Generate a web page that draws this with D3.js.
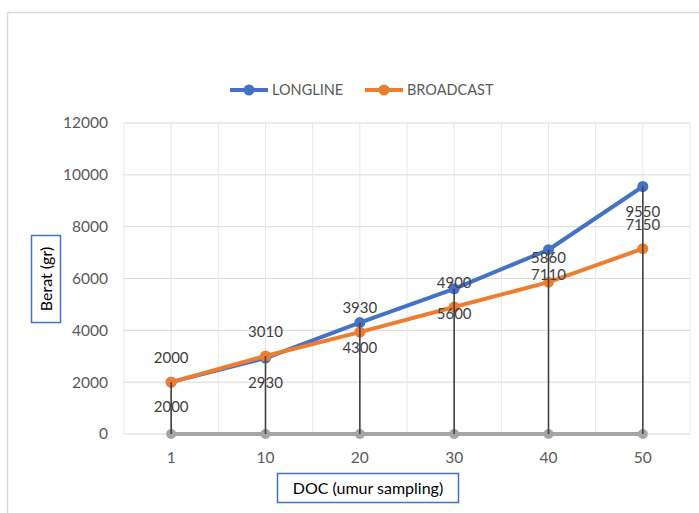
<!DOCTYPE html>
<html>
<head>
<meta charset="utf-8">
<script src="https://cdn.jsdelivr.net/npm/d3@7"></script>
<style>
  html, body { margin: 0; padding: 0; background: #fff; }
  svg { display: block; }
  text { font-family: Lato, "Open Sans", sans-serif; font-weight: 400; }
</style>
</head>
<body>
<svg id="chart" width="699" height="513"></svg>
<script>
const categories = ["1", "10", "20", "30", "40", "50"];
const longline = [2000, 2930, 4300, 5600, 7110, 9550];
const broadcast = [2000, 3010, 3930, 4900, 5860, 7150];
const baseline = [0, 0, 0, 0, 0, 0];
const yTicks = [0, 2000, 4000, 6000, 8000, 10000, 12000];
const seriesNames = ["LONGLINE", "BROADCAST"];

const svg = d3.select("#chart");
const plot = { left: 124, right: 690, top: 123, bottom: 434 };

// outer chart border
svg.append("rect").attr("x", 7.5).attr("y", 12.5).attr("width", 720).attr("height", 520)
  .attr("fill", "#fff").attr("stroke", "#d9d9d9").attr("stroke-width", 1.5);

const x = d3.scaleBand().domain(categories).range([plot.left, plot.right]).padding(0);
const y = d3.scaleLinear().domain([0, 12000]).range([plot.bottom, plot.top]);
const cx = c => x(c) + x.bandwidth() / 2;

// horizontal gridlines
svg.append("g").selectAll("line").data(yTicks).join("line")
  .attr("x1", plot.left).attr("x2", plot.right)
  .attr("y1", d => y(d)).attr("y2", d => y(d))
  .attr("stroke", "#d9d9d9").attr("stroke-width", 1);

// vertical gridlines (band edges and centers)
const vpos = [];
categories.forEach(c => { vpos.push(x(c)); vpos.push(cx(c)); });
vpos.push(plot.right);
svg.append("g").selectAll("line").data(vpos).join("line")
  .attr("x1", d => d).attr("x2", d => d)
  .attr("y1", plot.top).attr("y2", plot.bottom)
  .attr("stroke", "#e6e6e6").attr("stroke-width", 1);

// y-axis tick labels
const yAxis = d3.axisLeft(y).tickValues(yTicks).tickFormat(d3.format("d")).tickSize(0).tickPadding(16);
const gy = svg.append("g").attr("transform", `translate(${plot.left},0)`).call(yAxis);
gy.select(".domain").remove();
gy.selectAll("text").attr("fill", "#595959").style("font-size", "15.5px")
  .style("font-family", "Lato, 'Open Sans', sans-serif");

// x-axis tick labels
const xAxis = d3.axisBottom(x).tickSize(0).tickPadding(18);
const gx = svg.append("g").attr("transform", `translate(0,${plot.bottom})`).call(xAxis);
gx.select(".domain").remove();
gx.selectAll("text").attr("fill", "#595959").style("font-size", "15.5px")
  .style("font-family", "Lato, 'Open Sans', sans-serif");

const line = d3.line().x((d, i) => cx(categories[i])).y(d => y(d));

function drawSeries(vals, color, w, r) {
  svg.append("path").datum(vals).attr("d", line).attr("fill", "none")
    .attr("stroke", color).attr("stroke-width", w).attr("stroke-linejoin", "round");
  svg.append("g").selectAll("circle").data(vals).join("circle")
    .attr("cx", (d, i) => cx(categories[i])).attr("cy", d => y(d)).attr("r", r)
    .attr("fill", color);
}

drawSeries(baseline, "#a5a5a5", 4, 5);
drawSeries(longline, "#4472c4", 4, 5.5);
drawSeries(broadcast, "#ed7d31", 4, 5.5);

// drop lines
svg.append("g").selectAll("line").data(categories).join("line")
  .attr("x1", c => cx(c)).attr("x2", c => cx(c))
  .attr("y1", (c, i) => y(Math.max(longline[i], broadcast[i])))
  .attr("y2", (c, i) => y(baseline[i]))
  .attr("stroke", "#404040").attr("stroke-width", 1.6);

// data labels: broadcast above, longline below
const labelStyle = sel => sel.attr("text-anchor", "middle").attr("fill", "#404040")
  .style("font-size", "15px");
svg.append("g").selectAll("text").data(broadcast).join("text")
  .attr("x", (d, i) => cx(categories[i])).attr("y", d => y(d) - 24)
  .attr("dy", "0.35em").text(d => d).call(labelStyle);
svg.append("g").selectAll("text").data(longline).join("text")
  .attr("x", (d, i) => cx(categories[i])).attr("y", d => y(d) + 25)
  .attr("dy", "0.35em").text(d => d).call(labelStyle);

// legend
const legend = [
  { name: seriesNames[0], color: "#4472c4", x: 230 },
  { name: seriesNames[1], color: "#ed7d31", x: 365 }
];
const lg = svg.append("g").selectAll("g").data(legend).join("g")
  .attr("transform", d => `translate(${d.x},90)`);
lg.append("line").attr("x1", 0).attr("x2", 38).attr("y1", 0).attr("y2", 0)
  .attr("stroke", d => d.color).attr("stroke-width", 4);
lg.append("circle").attr("cx", 19).attr("cy", 0).attr("r", 5.5).attr("fill", d => d.color);
lg.append("text").attr("x", 42).attr("y", 0).attr("dy", "0.36em")
  .attr("fill", "#595959").style("font-size", "14.5px").text(d => d.name);

// y-axis title box
svg.append("rect").attr("x", 31.5).attr("y", 235.5).attr("width", 29).attr("height", 87)
  .attr("fill", "#fff").attr("stroke", "#4472c4").attr("stroke-width", 1.5);
svg.append("text").attr("transform", "translate(46,279) rotate(-90)")
  .attr("text-anchor", "middle").attr("dy", "0.35em").attr("fill", "#000")
  .style("font-size", "16px").style("font-weight", "400").text("Berat (gr)");

// x-axis title box
svg.append("rect").attr("x", 277.5).attr("y", 473.5).attr("width", 181).attr("height", 29)
  .attr("fill", "#fff").attr("stroke", "#4472c4").attr("stroke-width", 1.5);
svg.append("text").attr("x", 368).attr("y", 488).attr("text-anchor", "middle")
  .attr("dy", "0.35em").attr("fill", "#000").style("font-size", "16px")
  .text("DOC (umur sampling)");
</script>
</body>
</html>
